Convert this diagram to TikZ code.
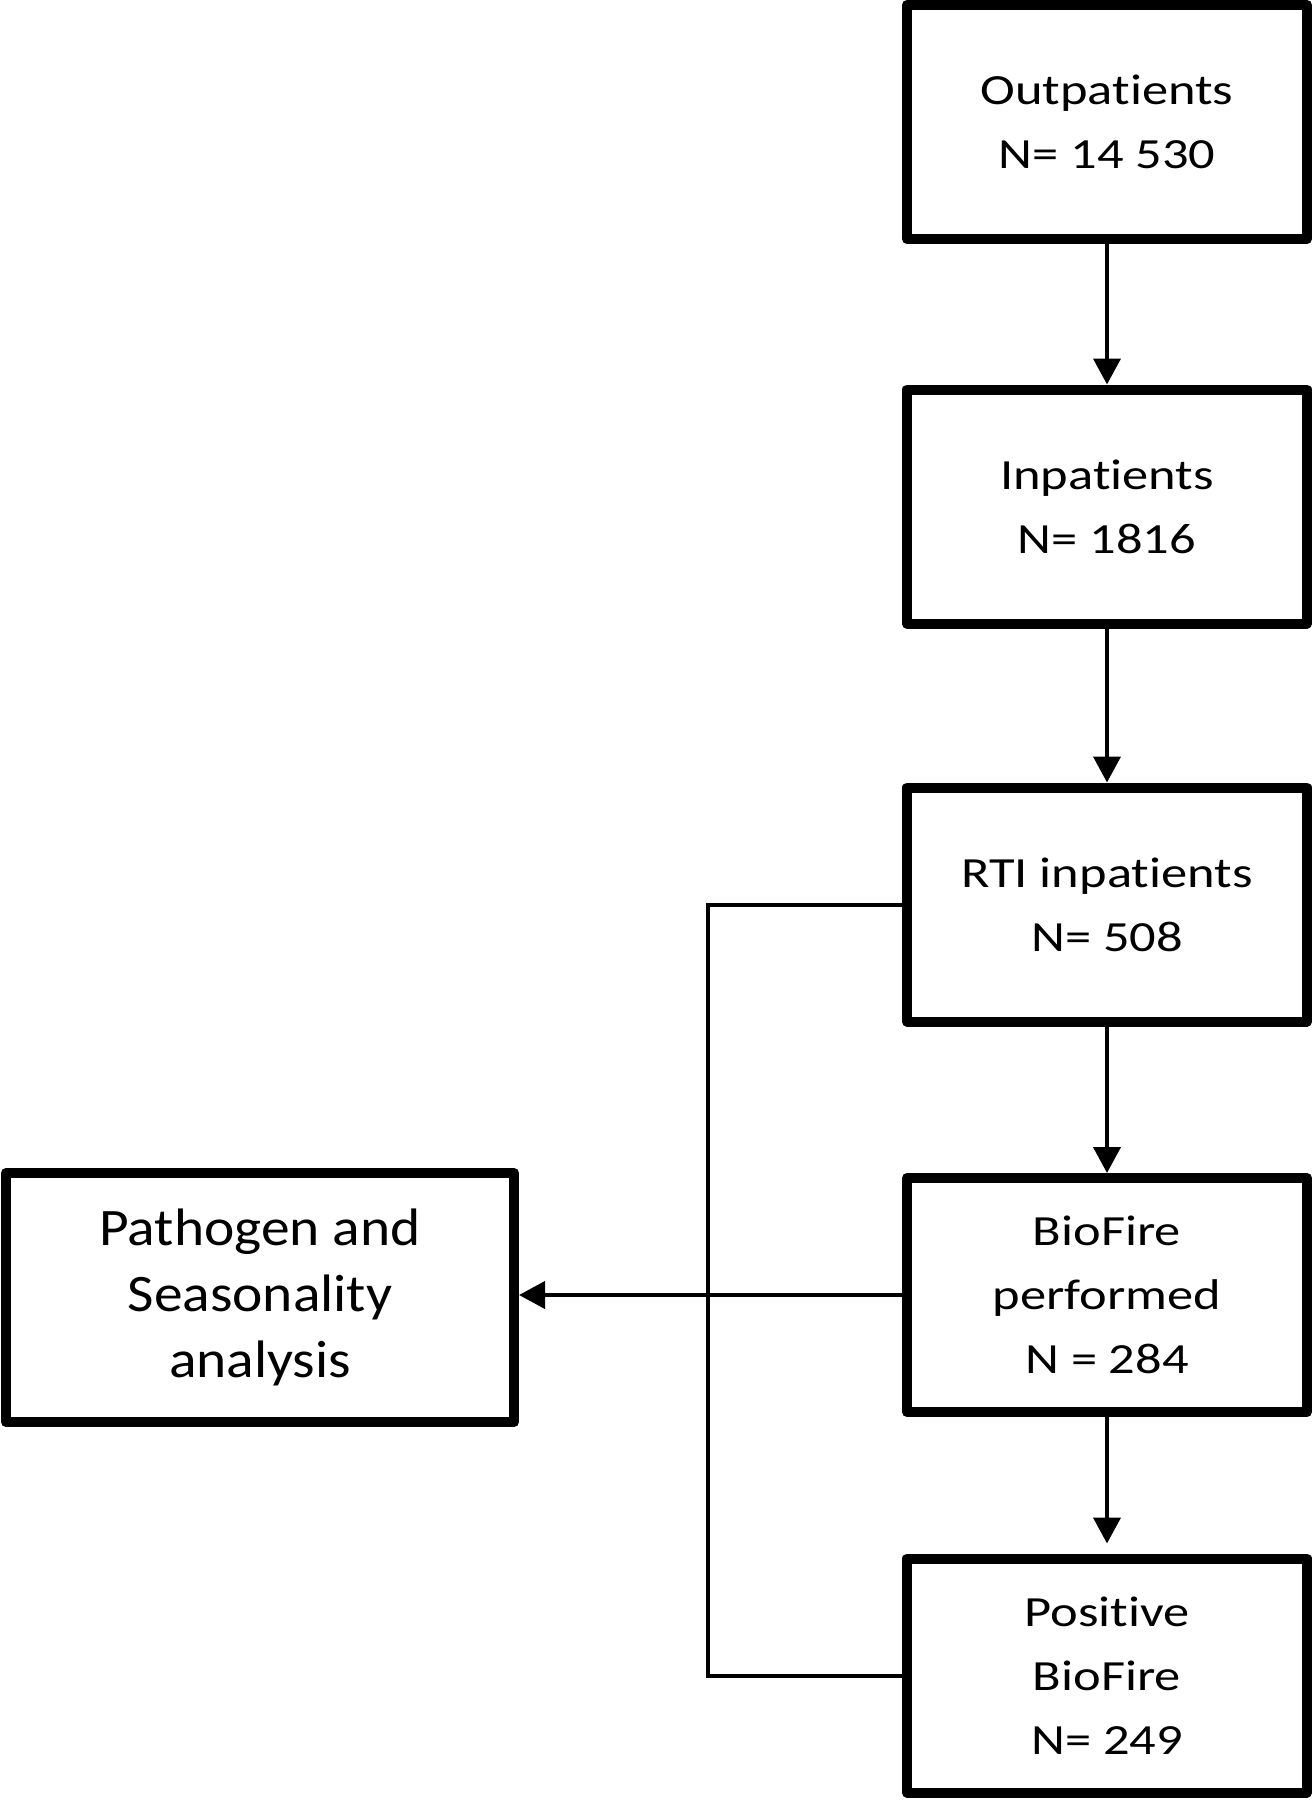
\documentclass[tikz,border=0pt]{standalone}
\usepackage{fontspec}
\setmainfont[RawFeature={-liga;-clig;-dlig;-calt;-rlig}]{Carlito}
\newfontfamily\rfont[FakeStretch=1.22,RawFeature={-liga;-clig;-dlig;-calt;-rlig}]{Carlito}
\newfontfamily\lfont[FakeStretch=1.09,RawFeature={-liga;-clig;-dlig;-calt;-rlig}]{Carlito}
\usetikzlibrary{arrows.meta}
\begin{document}
\begin{tikzpicture}[x=1pt,y=-1pt,
  box/.style={draw, line width=10pt, line join=round, minimum width=400pt,
    minimum height=234pt, inner sep=0pt, align=center,
    font=\rfont\fontsize{43}{64}\selectfont},
  bigbox/.style={box, minimum width=508pt, minimum height=249pt,
    font=\lfont\fontsize{52.7}{66}\selectfont},
  conn/.style={line width=4pt},
  arr/.style={conn, -{Triangle[width=27pt,length=26pt]}}]
\useasboundingbox (0,0) rectangle (1314,1800);
\node[box] (b1) at (1107,122) {Outpatients\\N= 14 530};
\node[box] (b2) at (1107,506.5) {Inpatients\\N= 1816};
\node[box] (b3) at (1107,904.5) {RTI inpatients\\N= 508};
\node[box] (b4) at (1107,1295) {BioFire\\performed\\N = 284};
\node[box] (b5) at (1107,1675.5) {Positive\\BioFire\\N= 249};
\node[bigbox] (lb) at (260,1297.5) {Pathogen and\\Seasonality\\analysis};
\coordinate (jx) at (708,0);
\draw[arr] (b1) -- (b2);
\draw[arr] (b2) -- (b3);
\draw[arr] (b3) -- (b4);
\draw[arr, shorten >=10pt] (b4) -- (b5);
\draw[arr] (b4.west) -- (b4.west -| lb.east);
\draw[conn] (b3.west) -- (b3.west -| jx) -- (b5.west -| jx) -- (b5.west);
\end{tikzpicture}
\end{document}
